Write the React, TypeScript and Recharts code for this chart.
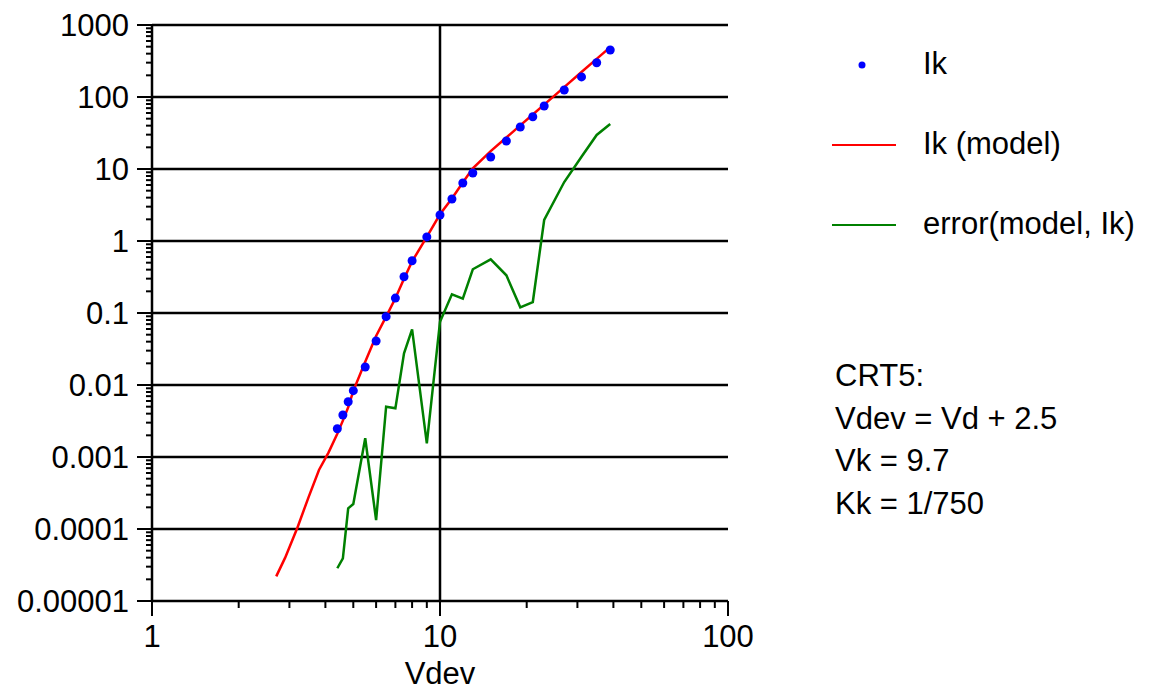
import { ComposedChart, Line, Scatter, XAxis, YAxis, ReferenceLine } from 'recharts'

// Ik measurements
const ikV = [4.4, 4.6, 4.8, 5, 5.5, 6, 6.5, 7, 7.5, 8, 9, 10, 11, 12, 13, 15, 17, 19, 21, 23, 27, 31, 35, 39]
const ikValues = [
  0.00247, 0.00383, 0.00586, 0.00834, 0.0178, 0.0409, 0.0889, 0.161, 0.319, 0.532, 1.14, 2.3, 3.83, 6.4, 8.8,
  14.7, 24.5, 38.3, 53.2, 75, 125, 190, 299, 450,
]

// Ik (model)
const modelV = [2.7, 2.9, 3.2, 3.5, 3.8, 4.1, 4.4, 4.6, 4.8, 5, 5.5, 6, 6.5, 7, 7.5, 8, 9, 10, 11, 12, 13, 15, 17, 19, 21, 23, 27, 31, 35, 39]
const modelValues = [
  0.000022, 0.00004, 0.000105, 0.00028, 0.00066, 0.00115, 0.0021, 0.0032, 0.0049, 0.0083, 0.021, 0.048, 0.089,
  0.16, 0.3, 0.52, 1.14, 2.35, 3.9, 6.5, 10.2, 17.7, 27.4, 40.3, 57.2, 78.4, 137, 222, 338, 493,
]

// error(model, Ik)
const errV = ikV
const errValues = [
  0.0000285, 0.000039, 0.000194, 0.000222, 0.00182, 0.000133, 0.005, 0.00474, 0.0275, 0.0594, 0.00155, 0.0757,
  0.182, 0.158, 0.405, 0.557, 0.334, 0.12, 0.142, 1.96, 6.59, 14.8, 29.7, 42.2,
]

const xMajorTicks = [1, 10, 100]
const xTickLabels = ['1', '10', '100']
const yMajorTicks = [0.00001, 0.0001, 0.001, 0.01, 0.1, 1, 10, 100, 1000]
const yTickLabels = ['0.00001', '0.0001', '0.001', '0.01', '0.1', '1', '10', '100', '1000']

const legendItems = [
  { name: 'Ik', kind: 'dot', color: '#0000ff' },
  { name: 'Ik (model)', kind: 'line', color: '#ff0000' },
  { name: 'error(model, Ik)', kind: 'line', color: '#008000' },
]
const noteLines = ['CRT5:', 'Vdev = Vd + 2.5', 'Vk = 9.7', 'Kk = 1/750']

const FONT = '"Liberation Sans", Arial, Helvetica, sans-serif'
const FS = 31

const withMinors = (majors: number[]) => {
  const out: number[] = []
  majors.forEach((m, i) => {
    out.push(m)
    if (i < majors.length - 1) for (let k = 2; k <= 9; k++) out.push(m * k)
  })
  return out
}
const xTicks = withMinors(xMajorTicks)
const yTicks = withMinors(yMajorTicks)

const toRows = (vs: number[], is: number[]) => vs.map((v, idx) => ({ v, i: is[idx] }))
const ikData = toRows(ikV, ikValues)
const modelData = toRows(modelV, modelValues)
const errData = toRows(errV, errValues)

const labelFor = (value: number, majors: number[], labels: string[]) => {
  const idx = majors.findIndex((m) => Math.abs(value / m - 1) < 1e-6)
  return idx >= 0 ? labels[idx] : null
}

function YTick(props: any) {
  const { x, y, payload } = props
  const label = labelFor(payload.value, yMajorTicks, yTickLabels)
  return (
    <g>
      <line x1={x - (label ? 15 : 6)} x2={x} y1={y} y2={y} stroke="#000" strokeWidth={2} />
      {label && (
        <text x={x - 23} y={y + 11} textAnchor="end" fontSize={FS} fontFamily={FONT} fill="#000">
          {label}
        </text>
      )}
    </g>
  )
}

function XTick(props: any) {
  const { x, y, payload } = props
  const label = labelFor(payload.value, xMajorTicks, xTickLabels)
  return (
    <g>
      <line x1={x} x2={x} y1={y} y2={y + (label ? 15 : 7)} stroke="#000" strokeWidth={2} />
      {label && (
        <text x={x} y={y + 46} textAnchor="middle" fontSize={FS} fontFamily={FONT} fill="#000">
          {label}
        </text>
      )}
    </g>
  )
}

export default function App() {
  return (
    <div style={{ position: 'absolute', left: 0, top: 0, width: 1156, height: 691, background: '#fff', fontFamily: FONT }}>
      <ComposedChart width={1156} height={691} margin={{ top: 25, right: 428, bottom: 10, left: 2 }}>
        <XAxis
          type="number"
          dataKey="v"
          scale="log"
          domain={[1, 100]}
          allowDataOverflow
          ticks={xTicks}
          interval={0}
          tickSize={0}
          tickMargin={0}
          tick={<XTick />}
          axisLine={{ stroke: '#000', strokeWidth: 2.5 }}
          height={80}
          label={{ value: 'Vdev', position: 'insideBottom', offset: -3, fill: '#000', fontSize: FS, fontFamily: FONT }}
        />
        <YAxis
          type="number"
          dataKey="i"
          scale="log"
          domain={[0.00001, 1000]}
          allowDataOverflow
          ticks={yTicks}
          interval={0}
          tickSize={0}
          tickMargin={0}
          tick={<YTick />}
          axisLine={{ stroke: '#000', strokeWidth: 2.5 }}
          width={150}
        />
        {yMajorTicks.slice(1).map((t) => (
          <ReferenceLine key={t} y={t} stroke="#000" strokeWidth={2.5} />
        ))}
        <ReferenceLine x={10} stroke="#000" strokeWidth={2.5} />
        <Line
          data={modelData}
          dataKey="i"
          type="linear"
          stroke="#ff0000"
          strokeWidth={2.5}
          dot={false}
          isAnimationActive={false}
        />
        <Line
          data={errData}
          dataKey="i"
          type="linear"
          stroke="#008000"
          strokeWidth={2.5}
          dot={false}
          isAnimationActive={false}
        />
        <Scatter
          data={ikData}
          dataKey="i"
          isAnimationActive={false}
          shape={(p: any) => <circle cx={p.cx} cy={p.cy} r={4.5} fill="#0000ff" />}
        />
      </ComposedChart>

      <svg width={1156} height={691} style={{ position: 'absolute', left: 0, top: 0, pointerEvents: 'none' }}>
        {legendItems.map((item, idx) => {
          const cy = 65 + idx * 80
          return (
            <g key={item.name}>
              {item.kind === 'dot' ? (
                <circle cx={862} cy={cy} r={3.5} fill={item.color} />
              ) : (
                <line x1={832} x2={896} y1={cy} y2={cy} stroke={item.color} strokeWidth={2} />
              )}
              <text x={923} y={cy + 8.5} fontSize={FS} fontFamily={FONT} fill="#000">
                {item.name}
              </text>
            </g>
          )
        })}
        {noteLines.map((line, idx) => (
          <text key={line} x={835} y={386 + idx * 42.5} fontSize={FS} fontFamily={FONT} fill="#000">
            {line}
          </text>
        ))}
      </svg>
    </div>
  )
}
